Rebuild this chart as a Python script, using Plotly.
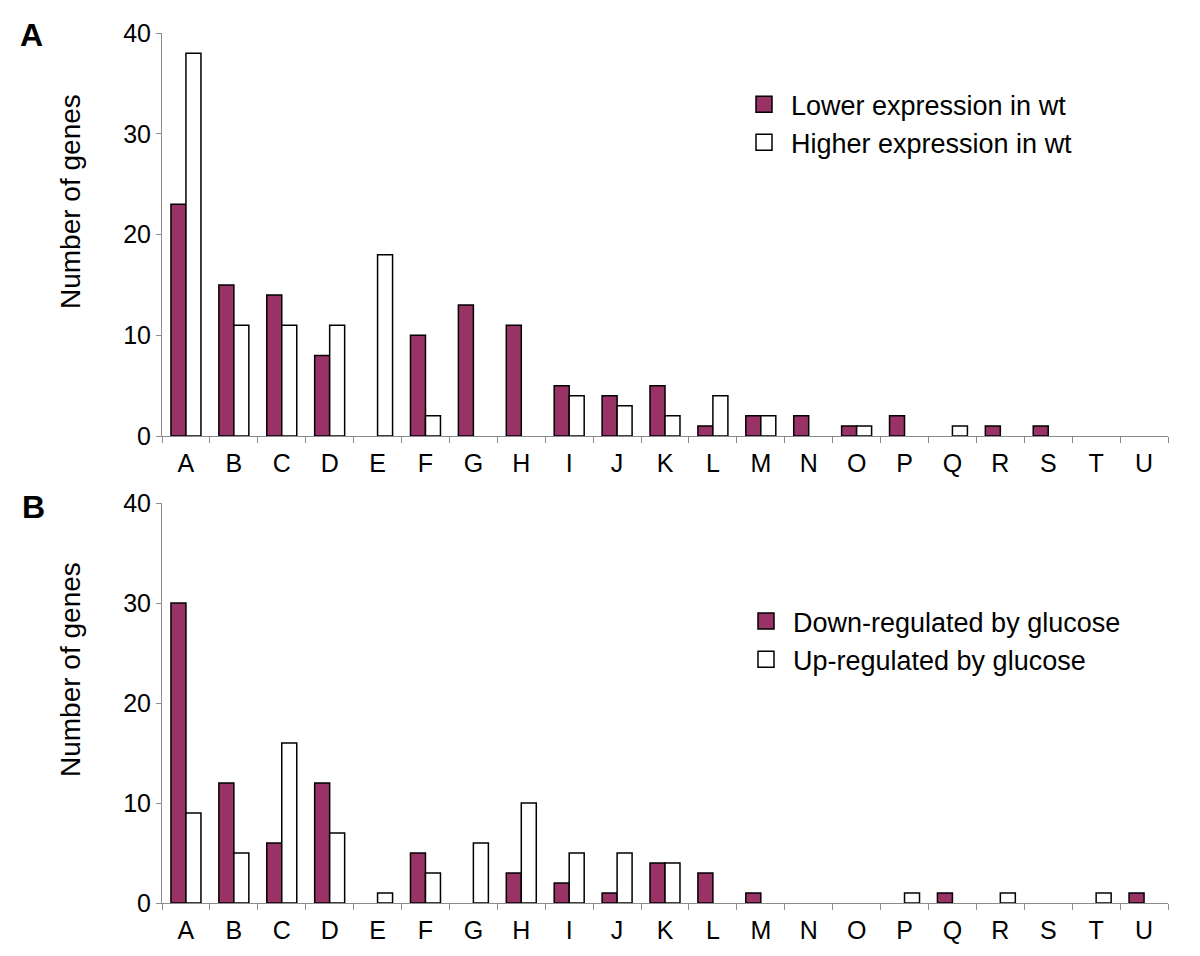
import plotly.graph_objects as go

categories = list("ABCDEFGHIJKLMNOPQRSTU")

lower_wt = [23, 15, 14, 8, 0, 10, 13, 11, 5, 4, 5, 1, 2, 2, 1, 2, 0, 1, 1, 0, 0]
higher_wt = [38, 11, 11, 11, 18, 2, 0, 0, 4, 3, 2, 4, 2, 0, 1, 0, 1, 0, 0, 0, 0]

down_glc = [30, 12, 6, 12, 0, 5, 0, 3, 2, 1, 4, 3, 1, 0, 0, 0, 1, 0, 0, 0, 1]
up_glc = [9, 5, 16, 7, 1, 3, 6, 10, 5, 5, 4, 0, 0, 0, 0, 1, 0, 1, 0, 1, 0]

y_title = "Number of genes"
legend_top = ["Lower expression in wt", "Higher expression in wt"]
legend_bottom = ["Down-regulated by glucose", "Up-regulated by glucose"]

PURPLE = "#993366"
FONT = "Liberation Sans, Arial, sans-serif"
AXIS_GRAY = "#8c8c8c"

W, H = 1200, 956
OFF = 8  # page body margin offset


def px(x):
    return (x - OFF) / W


def py(y):
    return 1 - (y - OFF) / H


fig = go.Figure()


def add_bars(vals, color, xa, ya):
    # zero counts are drawn as no bar at all (as in the reference)
    fig.add_trace(go.Bar(
        x=categories, y=[v if v else None for v in vals], xaxis=xa, yaxis=ya,
        marker=dict(color=color, line=dict(color="black", width=1.5)),
        showlegend=False, hoverinfo="x+y",
    ))


add_bars(lower_wt, PURPLE, "x", "y")
add_bars(higher_wt, "white", "x", "y")
add_bars(down_glc, PURPLE, "x2", "y2")
add_bars(up_glc, "white", "x2", "y2")


def add_legend_entry(name, color, legend):
    fig.add_trace(go.Scatter(
        x=[None], y=[None], mode="markers", name=name, legend=legend,
        xaxis="x", yaxis="y",
        marker=dict(symbol="square", size=22, color=color,
                    line=dict(color="black", width=1.5)),
        showlegend=True,
    ))


add_legend_entry(legend_top[0], PURPLE, "legend")
add_legend_entry(legend_top[1], "white", "legend")
add_legend_entry(legend_bottom[0], PURPLE, "legend2")
add_legend_entry(legend_bottom[1], "white", "legend2")

x_dom = [px(162), px(1168)]
top_dom = [py(436), py(33)]
bot_dom = [py(903), py(503)]

xaxis_common = dict(
    type="category", showline=True, linecolor=AXIS_GRAY, linewidth=1,
    ticks="outside", tickson="boundaries", ticklen=6, tickcolor=AXIS_GRAY,
    tickfont=dict(family=FONT, size=25, color="black"), showgrid=False,
    zeroline=False, domain=x_dom, automargin=False, ticklabelstandoff=5,
)
yaxis_common = dict(
    range=[0, 40], tickvals=[0, 10, 20, 30, 40], showline=True,
    linecolor=AXIS_GRAY, linewidth=1, ticks="outside", ticklen=5,
    tickcolor=AXIS_GRAY, tickfont=dict(family=FONT, size=25, color="black"),
    showgrid=False, zeroline=False, automargin=False,
)

legend_font = dict(family=FONT, size=27, color="black")

annotations = [
    dict(text="<b>A</b>", x=px(31), y=py(35), xref="paper", yref="paper",
         xanchor="center", yanchor="middle",
         showarrow=False, font=dict(family=FONT, size=32, color="black")),
    dict(text="<b>B</b>", x=px(33), y=py(507), xref="paper", yref="paper",
         xanchor="center", yanchor="middle",
         showarrow=False, font=dict(family=FONT, size=32, color="black")),
    dict(text=y_title, x=px(70), y=py(202), xref="paper", yref="paper",
         xanchor="center", yanchor="middle", textangle=-90,
         showarrow=False, font=dict(family=FONT, size=28, color="black")),
    dict(text=y_title, x=px(70), y=py(670), xref="paper", yref="paper",
         xanchor="center", yanchor="middle", textangle=-90,
         showarrow=False, font=dict(family=FONT, size=28, color="black")),
]

fig.update_layout(
    width=W, height=H,
    margin=dict(l=0, r=0, t=0, b=0),
    paper_bgcolor="white", plot_bgcolor="white",
    barmode="group", bargap=0.374, bargroupgap=0,
    xaxis=dict(**xaxis_common, anchor="y"),
    yaxis=dict(**yaxis_common, domain=top_dom, anchor="x"),
    xaxis2=dict(**xaxis_common, anchor="y2"),
    yaxis2=dict(**yaxis_common, domain=bot_dom, anchor="x2"),
    legend=dict(x=px(737), y=0.9246, xanchor="left", yanchor="top",
                font=legend_font, bgcolor="rgba(0,0,0,0)",
                itemwidth=44, tracegroupgap=0),
    legend2=dict(x=px(739), y=0.3839, xanchor="left", yanchor="top",
                 font=legend_font, bgcolor="rgba(0,0,0,0)",
                 itemwidth=44, tracegroupgap=0),
    annotations=annotations,
)

fig.write_html("out.html")
